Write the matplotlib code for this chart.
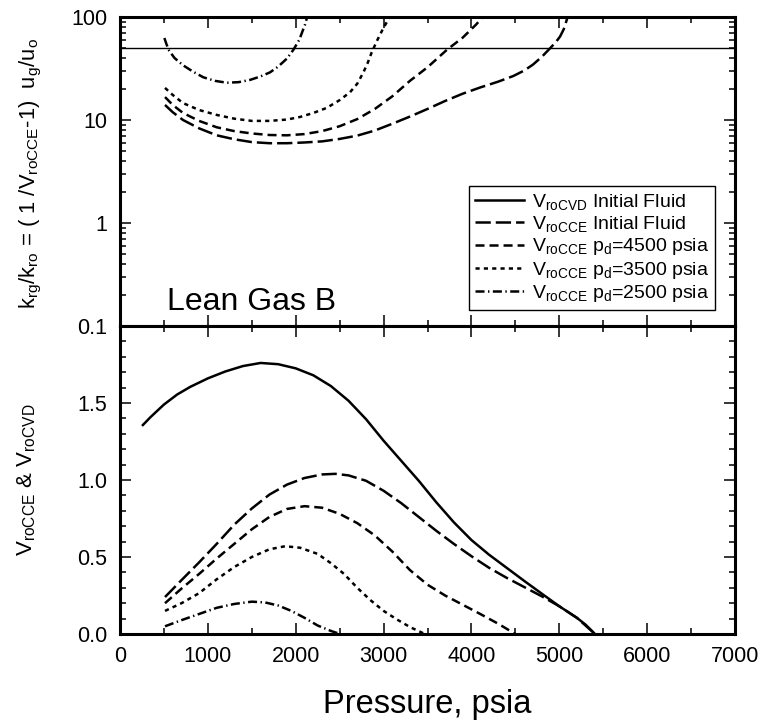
import matplotlib
matplotlib.use('Agg')
import matplotlib.pyplot as plt
from matplotlib.ticker import FixedLocator, LogLocator, MultipleLocator, FuncFormatter, NullFormatter

plt.rcParams['font.family'] = 'Liberation Sans'
plt.rcParams['mathtext.fontset'] = 'custom'
plt.rcParams['mathtext.rm'] = 'Liberation Sans'
plt.rcParams['mathtext.it'] = 'Liberation Sans:italic'
plt.rcParams['mathtext.bf'] = 'Liberation Sans:bold'
plt.rcParams['lines.scale_dashes'] = False

# top panel: krg/kro from CCE curves
p_kr_init = [512, 600, 717, 900, 1100, 1300, 1500, 1700, 1900, 2100, 2300, 2500, 2700, 2900, 3100,
             3300, 3500, 3700, 3900, 4100, 4300, 4475, 4600, 4700, 4800, 4894, 4960, 5008, 5050, 5085, 5095]
kr_init = [14.0, 11.9, 10.0, 8.3, 7.1, 6.5, 6.1, 5.95, 5.95, 6.05, 6.2, 6.55, 7.05, 7.9, 9.2,
           10.8, 12.8, 15.3, 18.0, 20.7, 23.5, 26.7, 30.2, 34.5, 41.0, 49.6, 57.0, 64.5, 76.0, 94.0, 100.0]

p_kr_4500 = [512, 600, 717, 900, 1100, 1300, 1500, 1700, 1900, 2100, 2300, 2500, 2700, 2900, 3100,
             3300, 3500, 3720, 3900, 4050, 4130]
kr_4500 = [16.7, 14.0, 11.7, 9.8, 8.5, 7.8, 7.4, 7.15, 7.1, 7.3, 7.8, 8.7, 10.2, 12.8, 17.0,
           24.0, 32.5, 48.0, 63.0, 84.0, 100.0]

p_kr_3500 = [512, 600, 717, 900, 1100, 1300, 1500, 1700, 1900, 2049, 2200, 2352, 2500, 2618, 2700,
             2770, 2820, 2865, 2930, 2997, 3070]
kr_3500 = [20.5, 17.5, 14.6, 12.5, 11.2, 10.3, 9.8, 9.8, 10.1, 10.7, 11.7, 13.1, 15.6, 18.6, 22.5,
           29.0, 36.0, 45.5, 60.0, 78.0, 100.0]

p_kr_2500 = [505, 530, 560, 620, 717, 830, 947, 1080, 1214, 1350, 1480, 1600, 1707, 1800, 1900, 1973,
             2040, 2105, 2130]
kr_2500 = [62.5, 54.0, 47.0, 40.0, 34.0, 29.5, 26.0, 24.0, 23.0, 23.3, 24.5, 26.5, 29.0, 33.0, 39.5, 48.0,
           60.0, 84.0, 100.0]

# bottom panel: relative oil volumes
p_cvd = [260, 350, 500, 650, 800, 1000, 1200, 1400, 1600, 1800, 2000, 2200, 2400, 2600, 2800,
         3000, 3200, 3400, 3600, 3800, 4000, 4200, 4400, 4600, 4800, 5000, 5200, 5300, 5406]
v_cvd = [1.357, 1.41, 1.49, 1.555, 1.605, 1.66, 1.705, 1.74, 1.76, 1.752, 1.725, 1.68, 1.61, 1.515, 1.395,
         1.255, 1.125, 0.995, 0.855, 0.725, 0.61, 0.515, 0.43, 0.345, 0.262, 0.18, 0.105, 0.06, 0.0]

p_cce = [512, 700, 900, 1100, 1300, 1500, 1700, 1900, 2100, 2300, 2450, 2600, 2800, 3000, 3200,
         3400, 3600, 3800, 4000, 4200, 4400, 4600, 4800, 5000, 5200, 5406]
v_cce = [0.24, 0.35, 0.465, 0.585, 0.71, 0.815, 0.905, 0.97, 1.013, 1.036, 1.04, 1.03, 0.995, 0.93, 0.85,
         0.76, 0.67, 0.585, 0.505, 0.43, 0.365, 0.305, 0.245, 0.18, 0.105, 0.0]

p_cce_4500 = [512, 700, 900, 1100, 1300, 1500, 1700, 1900, 2100, 2300, 2500, 2700, 2900, 3100, 3300,
              3500, 3700, 3900, 4100, 4300, 4500]
v_cce_4500 = [0.20, 0.295, 0.39, 0.49, 0.585, 0.68, 0.76, 0.812, 0.83, 0.82, 0.78, 0.72, 0.64, 0.535, 0.415,
              0.32, 0.25, 0.19, 0.13, 0.068, 0.0]

p_cce_3500 = [512, 700, 900, 1100, 1300, 1500, 1700, 1880, 2050, 2250, 2400, 2550, 2700, 2850, 3000,
              3150, 3300, 3470]
v_cce_3500 = [0.15, 0.2, 0.265, 0.355, 0.435, 0.5, 0.55, 0.57, 0.56, 0.52, 0.46, 0.39, 0.30, 0.22, 0.15,
              0.095, 0.045, 0.0]

p_cce_2500 = [512, 700, 900, 1100, 1300, 1500, 1650, 1800, 1950, 2100, 2250, 2400, 2504]
v_cce_2500 = [0.05, 0.09, 0.13, 0.17, 0.195, 0.21, 0.205, 0.185, 0.15, 0.105, 0.055, 0.02, 0.0]

legend_labels = [r'V$_\mathrm{roCVD}$ Initial Fluid',
                 r'V$_\mathrm{roCCE}$ Initial Fluid',
                 r'V$_\mathrm{roCCE}$ p$_\mathrm{d}$=4500 psia',
                 r'V$_\mathrm{roCCE}$ p$_\mathrm{d}$=3500 psia',
                 r'V$_\mathrm{roCCE}$ p$_\mathrm{d}$=2500 psia']

# line styles (dash lengths in points)
ls_solid = '-'
ls_long = (0, (11, 3.6))
ls_dash = (0, (6.5, 3.6))
ls_dot = (0, (3, 3))
ls_dashdot = (0, (6.5, 2.5, 1, 2.5))
lw = 1.8

fig = plt.figure(figsize=(7.64, 7.23), dpi=100)
ax1 = fig.add_axes([0.1571, 0.5491, 0.8050, 0.4274])
ax2 = fig.add_axes([0.1571, 0.1231, 0.8050, 0.4260], sharex=ax1)

# top panel
ax1.axhline(50, color='black', lw=1)
ax1.plot(p_kr_init, kr_init, color='black', lw=lw, ls=ls_long)
ax1.plot(p_kr_4500, kr_4500, color='black', lw=lw, ls=ls_dash)
ax1.plot(p_kr_3500, kr_3500, color='black', lw=lw, ls=ls_dot)
ax1.plot(p_kr_2500, kr_2500, color='black', lw=lw, ls=ls_dashdot)
ax1.set_yscale('log')
ax1.set_ylim(0.1, 100)
ax1.set_xlim(0, 7000)
ax1.yaxis.set_major_locator(FixedLocator([0.1, 1, 10, 100]))
ax1.yaxis.set_major_formatter(FuncFormatter(lambda y, _: '%g' % y))
ax1.yaxis.set_minor_locator(LogLocator(base=10, subs=range(2, 10)))
ax1.yaxis.set_minor_formatter(NullFormatter())
ax1.tick_params(labelbottom=False)
ax1.text(0.076, 0.052, 'Lean Gas B', transform=ax1.transAxes, fontsize=23, va='baseline')

# bottom panel
h_cvd, = ax2.plot(p_cvd, v_cvd, color='black', lw=lw, ls=ls_solid)
h_cce, = ax2.plot(p_cce, v_cce, color='black', lw=lw, ls=ls_long)
h_4500, = ax2.plot(p_cce_4500, v_cce_4500, color='black', lw=lw, ls=ls_dash)
h_3500, = ax2.plot(p_cce_3500, v_cce_3500, color='black', lw=lw, ls=ls_dot)
h_2500, = ax2.plot(p_cce_2500, v_cce_2500, color='black', lw=lw, ls=ls_dashdot)
ax2.set_ylim(0, 2.0)
ax2.yaxis.set_major_locator(FixedLocator([0.0, 0.5, 1.0, 1.5]))
ax2.yaxis.set_major_formatter(FuncFormatter(lambda y, _: '%.1f' % y))
ax2.yaxis.set_minor_locator(MultipleLocator(0.1))
ax2.xaxis.set_major_locator(MultipleLocator(1000))
ax2.xaxis.set_minor_locator(MultipleLocator(500))

for ax in (ax1, ax2):
    for sp in ax.spines.values():
        sp.set_linewidth(2.2)
    ax.tick_params(which='both', direction='in', top=True, right=True, width=1.1)
    ax.tick_params(which='major', length=8, labelsize=15.5, pad=9)
    ax.tick_params(which='minor', length=4.5)

leg = ax1.legend([h_cvd, h_cce, h_4500, h_3500, h_2500], legend_labels,
                 loc='lower right', bbox_to_anchor=(0.967, 0.052), borderaxespad=0,
                 fontsize=14, frameon=True, fancybox=False, edgecolor='black',
                 framealpha=1, handlelength=2.5, handletextpad=0.4,
                 labelspacing=0.12, borderpad=0.3)
leg.get_frame().set_linewidth(1.0)

fig.text(31 / 764, 1 - 174 / 723,
         r'k$_\mathrm{rg}$/k$_\mathrm{ro}$ = ( 1 /V$_\mathrm{roCCE}$-1)  u$_\mathrm{g}$/u$_\mathrm{o}$',
         rotation=90, ha='center', va='center', fontsize=15.8)
fig.text(27 / 764, 1 - 480 / 723, r'V$_\mathrm{roCCE}$ & V$_\mathrm{roCVD}$',
         rotation=90, ha='center', va='center', fontsize=16)
fig.text(427 / 764, 1 - 705 / 723, 'Pressure, psia', ha='center', va='center', fontsize=23.5)

fig.savefig('out.png', dpi=100)
